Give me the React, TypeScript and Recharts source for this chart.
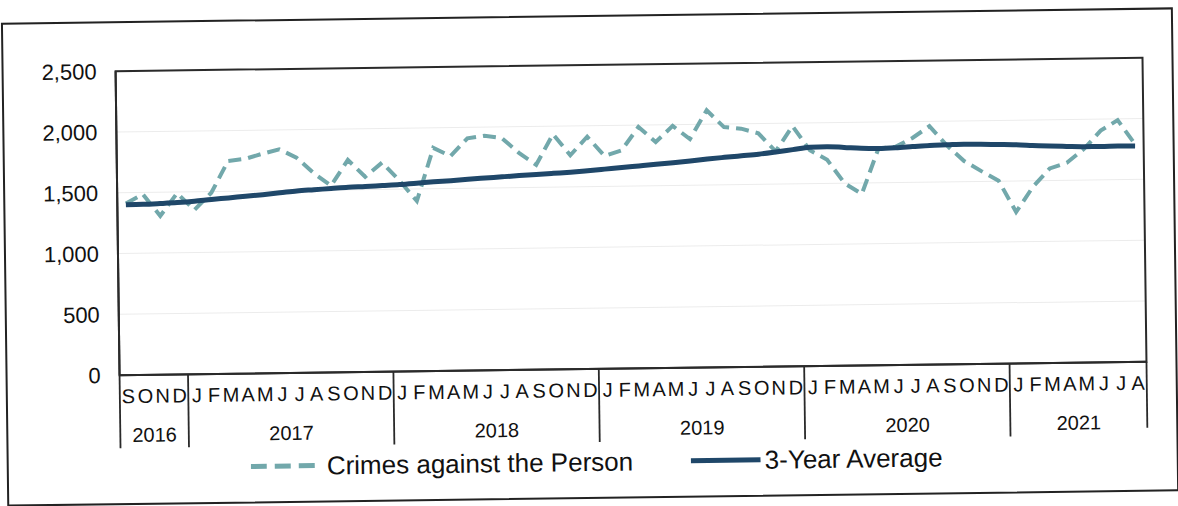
import React from 'react';
import { LineChart, Line, XAxis, YAxis, CartesianGrid, Legend } from 'recharts';

const monthLetters: string[] = [
  'S', 'O', 'N', 'D',
  'J', 'F', 'M', 'A', 'M', 'J', 'J', 'A', 'S', 'O', 'N', 'D',
  'J', 'F', 'M', 'A', 'M', 'J', 'J', 'A', 'S', 'O', 'N', 'D',
  'J', 'F', 'M', 'A', 'M', 'J', 'J', 'A', 'S', 'O', 'N', 'D',
  'J', 'F', 'M', 'A', 'M', 'J', 'J', 'A', 'S', 'O', 'N', 'D',
  'J', 'F', 'M', 'A', 'M', 'J', 'J', 'A',
];

const yearLabels: string[] = ['2016', '2017', '2018', '2019', '2020', '2021'];
const yearMonthCounts: number[] = [4, 12, 12, 12, 12, 8];

const crimesAgainstPerson: number[] = [
  1410, 1485, 1305, 1490,
  1350, 1490, 1750, 1765, 1805, 1840, 1770, 1640, 1535, 1745, 1605, 1720,
  1570, 1400, 1835, 1765, 1910, 1930, 1910, 1785, 1685, 1935, 1760, 1910,
  1750, 1795, 1985, 1860, 1990, 1880, 2115, 1975, 1960, 1920, 1770, 1975,
  1775, 1695, 1500, 1410, 1780, 1795, 1865, 1960, 1800, 1670, 1585, 1505,
  1245, 1450, 1600, 1645, 1755, 1905, 1990, 1790,
];

const threeYearAverage: number[] = [
  1400, 1402, 1407, 1413,
  1422, 1435, 1446, 1458, 1469, 1482, 1496, 1504, 1512, 1520, 1525, 1531,
  1537, 1546, 1556, 1564, 1574, 1582, 1590, 1598, 1605, 1613, 1621, 1631,
  1642, 1653, 1665, 1677, 1688, 1700, 1714, 1726, 1737, 1748, 1764, 1782,
  1800, 1803, 1795, 1786, 1782, 1786, 1794, 1802, 1805, 1808, 1806, 1802,
  1798, 1791, 1784, 1779, 1775, 1775, 1777, 1775,
];

const yTicks: number[] = [0, 500, 1000, 1500, 2000, 2500];

// build table for the chart
const yearOfIndex: string[] = [];
const firstOfYear: number[] = [];
yearLabels.forEach((y, k) => {
  firstOfYear.push(yearOfIndex.length);
  for (let m = 0; m < yearMonthCounts[k]; m++) yearOfIndex.push(y);
});

const data = monthLetters.map((m, i) => ({
  id: `${yearOfIndex[i]}-${i}`,
  month: m,
  year: yearOfIndex[i],
  crimes: crimesAgainstPerson[i],
  avg: threeYearAverage[i],
}));

const FONT = '"Liberation Sans", Arial, Helvetica, sans-serif';
const CHART_W = 1178;
const CHART_H = 506;
const MARGIN = { top: 65, right: 33, bottom: 57, left: 0 };
const Y_AXIS_W = 118;
const X_AXIS_H = 80;
const PLOT_W = CHART_W - MARGIN.right - MARGIN.left - Y_AXIS_W;
const PLOT_H = CHART_H - MARGIN.top - MARGIN.bottom - X_AXIS_H;
const N = monthLetters.length;
const BW = PLOT_W / N;
const AXIS_COLOR = '#2a2a2a';
const DASH_COLOR = '#72a8ab';
const AVG_COLOR = '#1f4769';

const MonthTick = (props: any) => {
  const { x, y, payload } = props;
  const i: number = payload.index;
  const yearIdx = firstOfYear.indexOf(i);
  const isLast = i === N - 1;
  return (
    <g>
      <text
        x={x}
        y={y + 28}
        textAnchor="middle"
        fontSize={20}
        fontFamily={FONT}
        fill="#111"
      >
        {monthLetters[i]}
      </text>
      {yearIdx >= 0 && (
        <>
          <line
            x1={x - BW / 2}
            x2={x - BW / 2}
            y1={y}
            y2={y + 73}
            stroke={AXIS_COLOR}
            strokeWidth={1.8}
          />
          <text
            x={x - BW / 2 + (yearMonthCounts[yearIdx] * BW) / 2}
            y={y + 67}
            textAnchor="middle"
            fontSize={20}
            fontFamily={FONT}
            fill="#111"
          >
            {yearLabels[yearIdx]}
          </text>
        </>
      )}
      {isLast && (
        <line
          x1={x + BW / 2}
          x2={x + BW / 2}
          y1={y}
          y2={y + 66}
          stroke={AXIS_COLOR}
          strokeWidth={1.8}
        />
      )}
    </g>
  );
};

const LegendContent = () => (
  <div style={{ position: 'relative', height: 32, width: CHART_W, fontFamily: FONT }}>
    <div style={{ position: 'absolute', left: 248, top: 0, display: 'flex', alignItems: 'center', height: 32 }}>
      <svg width={70} height={10} style={{ display: 'block' }}>
        <line x1={0} x2={70} y1={5} y2={5} stroke={DASH_COLOR} strokeWidth={5} strokeDasharray="16 8" />
      </svg>
      <span style={{ fontSize: 26, color: '#111', marginLeft: 6, whiteSpace: 'nowrap' }}>
        Crimes against the Person
      </span>
    </div>
    <div style={{ position: 'absolute', left: 688, top: 0, display: 'flex', alignItems: 'center', height: 32 }}>
      <svg width={70} height={10} style={{ display: 'block' }}>
        <line x1={0} x2={70} y1={5} y2={5} stroke={AVG_COLOR} strokeWidth={5} />
      </svg>
      <span style={{ fontSize: 26, color: '#111', marginLeft: 4, whiteSpace: 'nowrap' }}>
        3-Year Average
      </span>
    </div>
  </div>
);

export default function App() {
  return (
    <div
      style={{
        position: 'absolute',
        left: 0,
        top: 0,
        width: CHART_W,
        height: CHART_H,
        background: '#ffffff',
        overflow: 'hidden',
      }}
    >
      <div
        style={{
          position: 'absolute',
          left: 0,
          top: 0,
          width: CHART_W,
          height: CHART_H,
          transform: 'rotate(-0.75deg)',
          transformOrigin: '590px 253px',
          fontFamily: FONT,
        }}
      >
        <div
          style={{
            position: 'absolute',
            left: 4,
            top: 15,
            width: 1172,
            height: 484,
            border: '2px solid #222',
            boxSizing: 'border-box',
          }}
        />
        <LineChart width={CHART_W} height={CHART_H} data={data} margin={MARGIN}>
          <CartesianGrid vertical={false} stroke="#ececec" strokeWidth={1} />
          <XAxis
            dataKey="id"
            scale="band"
            interval={0}
            tickLine={false}
            tickSize={0}
            tickMargin={0}
            height={X_AXIS_H}
            axisLine={{ stroke: AXIS_COLOR, strokeWidth: 2 }}
            tick={<MonthTick />}
          />
          <YAxis
            width={Y_AXIS_W}
            domain={[0, 2500]}
            ticks={yTicks}
            tickLine={false}
            tickSize={0}
            tickMargin={19}
            axisLine={{ stroke: AXIS_COLOR, strokeWidth: 2 }}
            tickFormatter={(v: number) => v.toLocaleString('en-US')}
            tick={{ fontSize: 22, fontFamily: FONT, fill: '#111' }}
          />
          <Line
            dataKey="crimes"
            name="Crimes against the Person"
            type="linear"
            stroke={DASH_COLOR}
            strokeWidth={4}
            strokeDasharray="13 7"
            dot={false}
            activeDot={false}
            isAnimationActive={false}
          />
          <Line
            dataKey="avg"
            name="3-Year Average"
            type="monotone"
            stroke={AVG_COLOR}
            strokeWidth={5}
            dot={false}
            activeDot={false}
            isAnimationActive={false}
          />
          <Legend
            layout="horizontal"
            verticalAlign="middle"
            align="center"
            content={<LegendContent />}
            wrapperStyle={{ top: 446, left: 0, width: CHART_W, height: 32 }}
          />
        </LineChart>
        <div
          style={{
            position: 'absolute',
            left: MARGIN.left + Y_AXIS_W - 1,
            top: MARGIN.top - 1,
            width: PLOT_W + 2,
            height: PLOT_H + 2,
            border: `2px solid ${AXIS_COLOR}`,
            boxSizing: 'border-box',
            pointerEvents: 'none',
          }}
        />
      </div>
    </div>
  );
}
